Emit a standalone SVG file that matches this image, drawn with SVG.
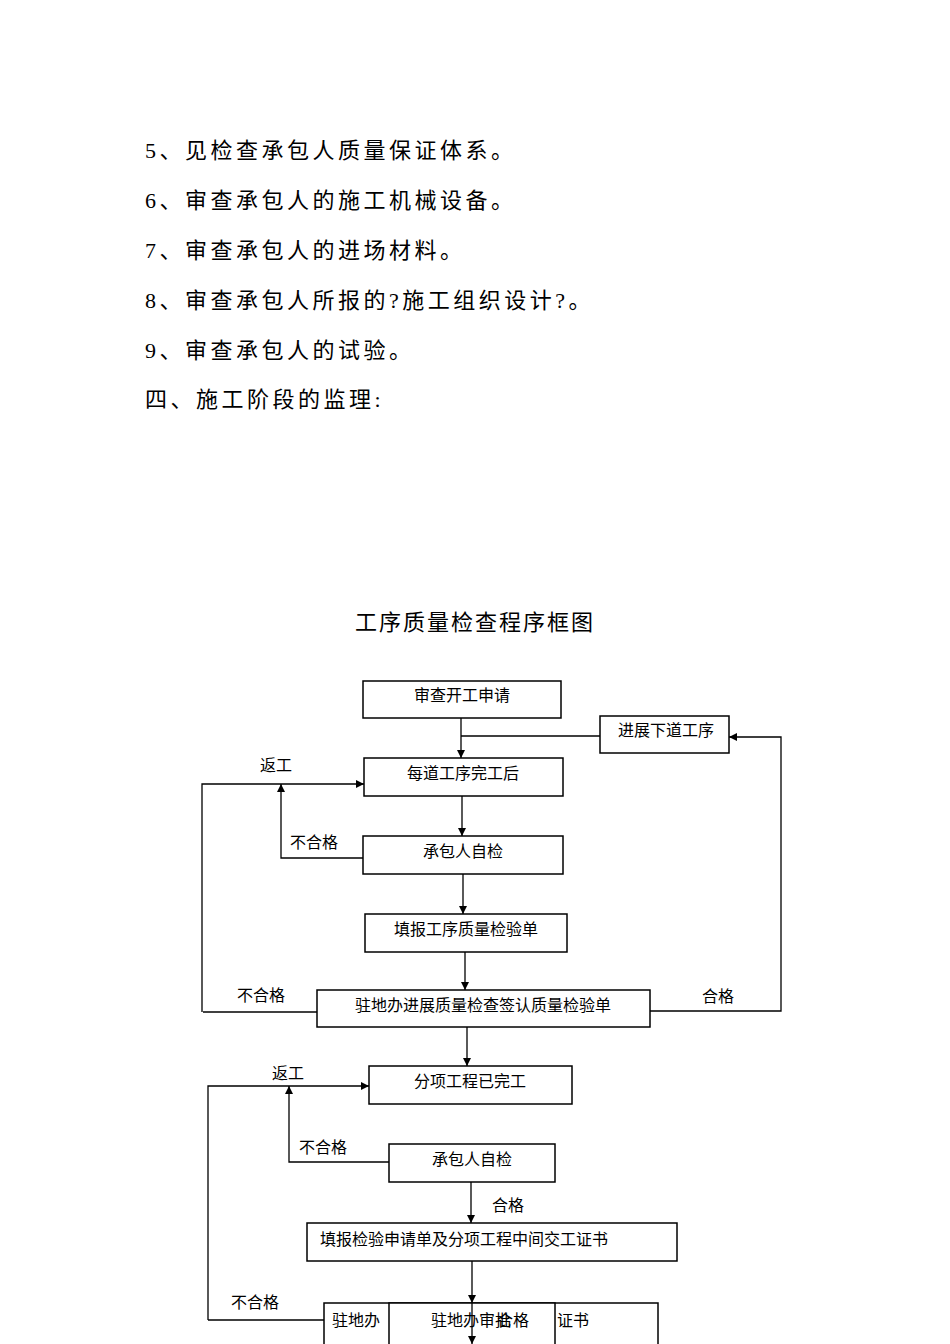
<svg xmlns="http://www.w3.org/2000/svg" width="950" height="1344" viewBox="0 0 950 1344">
<defs><marker id="a" viewBox="0 0 10 10" refX="10" refY="5" markerWidth="8" markerHeight="8" markerUnits="userSpaceOnUse" orient="auto"><path d="M0,0L10,5L0,10z" fill="#000"/></marker></defs>
<style>
.t{font-family:"Liberation Serif","Noto Sans CJK SC",serif;font-size:22px;fill:#000;letter-spacing:3.5px}
.h{letter-spacing:2px}
.n{font-family:"Liberation Serif","Noto Sans CJK SC",serif;font-size:16px;fill:#000}
rect{fill:#fff;stroke:#000;stroke-width:1.5}
.c path{fill:none;stroke:#000;stroke-width:1.3}
</style>
<rect x="0" y="0" width="950" height="1344" style="stroke:none"/>
<g id="text">
<text class="t" x="145" y="158">5、见检查承包人质量保证体系。</text>
<text class="t" x="145" y="208">6、审查承包人的施工机械设备。</text>
<text class="t" x="145" y="258">7、审查承包人的进场材料。</text>
<text class="t" x="145" y="308">8、审查承包人所报的?施工组织设计?。</text>
<text class="t" x="145" y="358">9、审查承包人的试验。</text>
<text class="t" x="145" y="407">四、施工阶段的监理:</text>
<text class="t h" x="475" y="630" text-anchor="middle">工序质量检查程序框图</text>
</g>
<g class="c" id="connectors">
<path d="M461,718V758" marker-end="url(#a)"/>
<path d="M600,736H461"/>
<path d="M202,1012V784H364" marker-end="url(#a)"/>
<path d="M363,858H281V784" marker-end="url(#a)"/>
<path d="M462,796V836" marker-end="url(#a)"/>
<path d="M463,874V914" marker-end="url(#a)"/>
<path d="M465,952V990" marker-end="url(#a)"/>
<path d="M203,1012H317"/>
<path d="M650,1011H781V737H729" marker-end="url(#a)"/>
<path d="M467,1027V1066" marker-end="url(#a)"/>
<path d="M208,1320V1086H369" marker-end="url(#a)"/>
<path d="M389,1162H289V1086" marker-end="url(#a)"/>
<path d="M471,1182V1223" marker-end="url(#a)"/>
<path d="M472,1261V1303" marker-end="url(#a)"/>
<path d="M208,1320H324"/>
</g>
<g id="labels">
<text class="n" x="276" y="771" text-anchor="middle">返工</text>
<text class="n" x="314" y="848" text-anchor="middle">不合格</text>
<text class="n" x="261" y="1001" text-anchor="middle">不合格</text>
<text class="n" x="718" y="1002" text-anchor="middle">合格</text>
<text class="n" x="288" y="1079" text-anchor="middle">返工</text>
<text class="n" x="323" y="1153" text-anchor="middle">不合格</text>
<text class="n" x="508" y="1211" text-anchor="middle">合格</text>
<text class="n" x="255" y="1308" text-anchor="middle">不合格</text>
</g>
<g id="n1"><rect x="363" y="681" width="198" height="37"/><text class="n" x="462" y="701" text-anchor="middle">审查开工申请</text></g>
<g id="n2"><rect x="600" y="716" width="129" height="37"/><text class="n" x="666" y="736" text-anchor="middle">进展下道工序</text></g>
<g id="n3"><rect x="364" y="758" width="199" height="38"/><text class="n" x="463" y="779" text-anchor="middle">每道工序完工后</text></g>
<g id="n4"><rect x="363" y="836" width="200" height="38"/><text class="n" x="463" y="857" text-anchor="middle">承包人自检</text></g>
<g id="n5"><rect x="365" y="914" width="202" height="38"/><text class="n" x="466" y="935" text-anchor="middle">填报工序质量检验单</text></g>
<g id="n6"><rect x="317" y="990" width="333" height="37"/><text class="n" x="483" y="1011" text-anchor="middle">驻地办进展质量检查签认质量检验单</text></g>
<g id="n7"><rect x="369" y="1066" width="203" height="38"/><text class="n" x="470" y="1087" text-anchor="middle">分项工程已完工</text></g>
<g id="n8"><rect x="389" y="1144" width="166" height="38"/><text class="n" x="472" y="1165" text-anchor="middle">承包人自检</text></g>
<g id="n9"><rect x="307" y="1223" width="370" height="38"/><text class="n" x="320" y="1245">填报检验申请单及分项工程中间交工证书</text></g>
<g id="n10"><rect x="324" y="1303" width="334" height="45"/><rect x="389" y="1303" width="166" height="45"/>
<text class="n" x="332" y="1326">驻地办</text><text class="n" x="431" y="1326">驻地办审批</text><text class="n" x="497" y="1326">合格</text><text class="n" x="557" y="1326">证书</text>
<path d="M472,1303V1344" stroke="#000" stroke-width="1.3" marker-end="url(#a)"/></g>
</svg>
